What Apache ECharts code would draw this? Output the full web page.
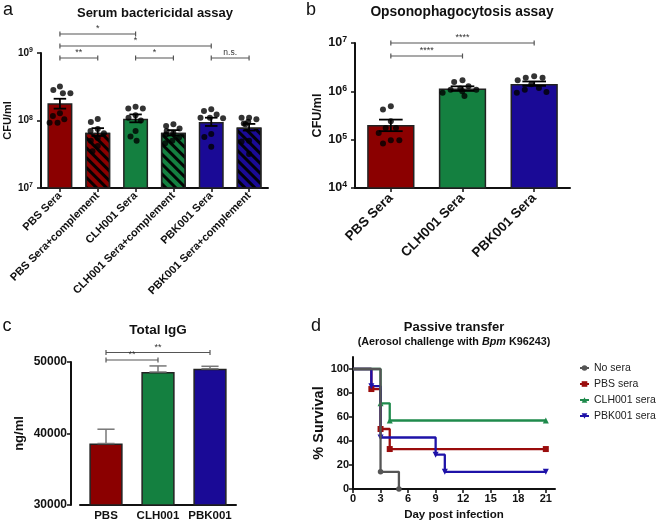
<!DOCTYPE html>
<html>
<head>
<meta charset="utf-8">
<script src="https://cdn.jsdelivr.net/npm/echarts@6/dist/echarts.min.js"></script>
<style>
  html, body { margin: 0; padding: 0; background: #fff; }
  #main { width: 658px; height: 522px; }
</style>
</head>
<body>
<div id="main"></div>
<script>
// a: serum bactericidal assay (CFU/ml, log)
let sbaGroups = ["PBS Sera", "PBS Sera+complement", "CLH001 Sera", "CLH001 Sera+complement", "PBK001 Sera", "PBK001 Sera+complement"]
let sbaMean = [1.8e8, 6.6e7, 1.06e8, 6.6e7, 9.5e7, 7.9e7]
let sbaLow = [1.5e8, 5.9e7, 9.4e7, 6.0e7, 8.3e7, 7.1e7]
let sbaHigh = [2.1e8, 7.7e7, 1.23e8, 7.2e7, 1.1e8, 8.9e7]
let sbaDots = [
  [3.2e8, 2.83e8, 2.53e8, 2.53e8, 1.28e8, 1.17e8, 1.04e8, 9.3e7, 9.3e7],
  [1.05e8, 9.5e7, 7.5e7, 7e7, 6.5e7, 5.5e7, 5e7, 4.2e7, 3.5e7],
  [1.6e8, 1.5e8, 1.5e8, 1.2e8, 1.1e8, 1.0e8, 7e7, 5.8e7, 5e7],
  [8.8e7, 8.3e7, 7.6e7, 7e7, 6.6e7, 6.2e7, 5.6e7, 5e7, 4.6e7],
  [1.47e8, 1.38e8, 1.23e8, 1.1e8, 1.1e8, 1.08e8, 6.3e7, 5.7e7, 4.1e7],
  [1.1e8, 1.1e8, 1.04e8, 9.6e7, 9e7, 8.8e7, 5e7, 4.9e7, 3.2e7]
]
// [from, to, label, row]
let sbaSig = [[0, 2, "*", 0], [0, 4, "*", 1], [0, 1, "**", 2], [2, 3, "*", 2], [4, 5, "n.s.", 2]]

// b: opsonophagocytosis assay
let opaGroups = ["PBS Sera", "CLH001 Sera", "PBK001 Sera"]
let opaMean = [2.0e5, 1.14e6, 1.42e6]
let opaLow = [1.5e5, 1.02e6, 1.3e6]
let opaHigh = [2.6e5, 1.27e6, 1.6e6]
let opaDots = [
  [4.9e5, 4.2e5, 2.4e5, 1.74e5, 1.74e5, 1.38e5, 9.7e4, 9.7e4, 8.3e4],
  [1.69e6, 1.56e6, 1.27e6, 1.14e6, 1.08e6, 1.08e6, 1.0e6, 9.4e5, 8e5],
  [2.05e6, 1.92e6, 1.92e6, 1.69e6, 1.4e6, 1.17e6, 1.08e6, 9.7e5, 9.4e5]
]
let opaSig = [[0, 2, "****", 0], [0, 1, "****", 1]]

// c: total IgG
let iggGroups = ["PBS", "CLH001", "PBK001"]
let iggMean = [38600, 48600, 49050]
let iggHigh = [40600, 49450, 49400]
let iggSig = [[0, 2, "**", 0], [0, 1, "**", 1]]

// d: passive transfer survival
let survNames = ["No sera", "PBS sera", "CLH001 sera", "PBK001 sera"]
let noSeraDays = [0, 3, 5]
let noSeraPct = [100, 14.3, 0]
let pbsDays = [0, 2, 3, 4, 21]
let pbsPct = [100, 83.3, 50, 33.3, 33.3]
let clhDays = [0, 3, 4, 21]
let clhPct = [100, 71.4, 57.1, 57.1]
let pbkDays = [0, 2, 3, 9, 10, 21]
let pbkPct = [100, 85.7, 42.9, 28.6, 14.3, 14.3]
let dayTicks = [0, 3, 6, 9, 12, 15, 18, 21]
let pctTicks = [0, 20, 40, 60, 80, 100]

const FONT = "Liberation Sans, Arial, sans-serif"
const RED = "#8b0000", GREEN = "#148040", BLUE = "#1a0a96"
const hatch = {
  symbol: "rect", symbolSize: 1, color: "rgba(0,0,0,0.95)",
  dashArrayX: [1, 0], dashArrayY: [2.5, 3.5], rotation: Math.PI / 4
}

let myChart = echarts.init(document.getElementById("main"), null, { renderer: "canvas" })

function logLabel(size) {
  return {
    fontSize: size, fontWeight: "bold", color: "#111", fontFamily: FONT,
    formatter: function (v) { return "10{s|" + Math.round(Math.log10(v)) + "}" },
    rich: { s: { fontSize: size * 0.7, fontWeight: "bold", fontFamily: FONT, verticalAlign: "top", padding: [0, 0, size * 0.5, 0] } }
  }
}

function axisBase(extra) {
  return Object.assign({
    axisLine: { show: true, lineStyle: { color: "#111", width: 2 } },
    axisTick: { show: true, length: 4, lineStyle: { color: "#111", width: 1.5 } },
    splitLine: { show: false }
  }, extra)
}

function nameStyle(size) {
  return { fontSize: size, fontWeight: "bold", color: "#111", fontFamily: FONT }
}

// error bars drawn with a custom series; value = [index, low, high]
function errorBars(xi, lo, hi, color, width) {
  let data = lo.map(function (l, i) { return [i, l, hi[i]] })
  return {
    type: "custom", xAxisIndex: xi, yAxisIndex: xi, z: 4,
    data: data,
    encode: { x: 0, y: [1, 2] },
    renderItem: function (params, api) {
      let x = api.value(0)
      let p1 = api.coord([x, api.value(1)])
      let p2 = api.coord([x, api.value(2)])
      let half = api.size([1, 0])[0] * 0.66 / 4
      let style = { stroke: color, lineWidth: width }
      return {
        type: "group",
        children: [
          { type: "line", shape: { x1: p1[0], y1: p1[1], x2: p2[0], y2: p2[1] }, style: style },
          { type: "line", shape: { x1: p2[0] - half, y1: p2[1], x2: p2[0] + half, y2: p2[1] }, style: style },
          { type: "line", shape: { x1: p1[0] - half, y1: p1[1], x2: p1[0] + half, y2: p1[1] }, style: style }
        ]
      }
    }
  }
}

function dotPoints(groups) {
  let pts = []
  groups.forEach(function (arr, i) { arr.forEach(function (v) { pts.push([i, v]) }) })
  return pts
}

function survData(days, pct) {
  return days.map(function (d, i) {
    return i === 0 ? { value: [d, pct[i]], symbol: "none" } : [d, pct[i]]
  })
}

let barColorsA = [RED, RED, GREEN, GREEN, BLUE, BLUE]
let barColorsB = [RED, GREEN, BLUE]

let option = {
  animation: false,
  textStyle: { fontFamily: FONT },
  grid: [
    { left: 41, top: 53, width: 227, height: 135 },
    { left: 355, top: 43, width: 215, height: 145 },
    { left: 80, top: 362, width: 156, height: 146 },
    { left: 353, top: 357, width: 202, height: 134 }
  ],
  xAxis: [
    axisBase({
      type: "category", gridIndex: 0, data: sbaGroups,
      jitter: 24, jitterOverlap: false, jitterMargin: 1.5,
      axisTick: { show: true, alignWithLabel: true, length: 4, lineStyle: { color: "#111", width: 1.5 } },
      axisLabel: { rotate: 45, interval: 0, fontSize: 11, fontWeight: "bold", color: "#111", margin: 6 }
    }),
    axisBase({
      type: "category", gridIndex: 1, data: opaGroups,
      jitter: 40, jitterOverlap: false, jitterMargin: 2.5,
      axisTick: { show: true, alignWithLabel: true, length: 4, lineStyle: { color: "#111", width: 1.5 } },
      axisLabel: { rotate: 45, interval: 0, fontSize: 13.5, fontWeight: "bold", color: "#111", margin: 8 }
    }),
    axisBase({
      type: "category", gridIndex: 2, data: iggGroups,
      axisTick: { show: false },
      axisLabel: { interval: 0, fontSize: 11.5, fontWeight: "bold", color: "#111", margin: 5 }
    }),
    axisBase({
      type: "value", gridIndex: 3, min: 0, max: 22,
      name: "Day post infection", nameLocation: "middle", nameGap: 20, nameTextStyle: nameStyle(11.5),
      axisTick: { show: true, length: 4, customValues: dayTicks, lineStyle: { color: "#111", width: 1.5 } },
      axisLabel: { customValues: dayTicks, fontSize: 11, fontWeight: "bold", color: "#111", margin: 4 }
    })
  ],
  yAxis: [
    axisBase({
      type: "log", gridIndex: 0, min: 1e7, max: 1e9, logBase: 10,
      name: "CFU/ml", nameLocation: "middle", nameGap: 28, nameTextStyle: nameStyle(11),
      axisLabel: logLabel(10)
    }),
    axisBase({
      type: "log", gridIndex: 1, min: 1e4, max: 1e7, logBase: 10,
      name: "CFU/ml", nameLocation: "middle", nameGap: 31, nameTextStyle: nameStyle(12.5),
      axisLabel: logLabel(12.5)
    }),
    axisBase({
      type: "value", gridIndex: 2, min: 30000, max: 50000, interval: 10000, offset: 9,
      name: "ng/ml", nameLocation: "middle", nameGap: 45, nameTextStyle: nameStyle(13),
      axisLabel: { fontSize: 12, fontWeight: "bold", color: "#111", margin: 4, formatter: function (v) { return String(v) } }
    }),
    axisBase({
      type: "value", gridIndex: 3, min: 0, max: 110,
      name: "% Survival", nameLocation: "middle", nameGap: 26, nameTextStyle: nameStyle(14.5),
      axisTick: { show: true, length: 4, customValues: pctTicks, lineStyle: { color: "#111", width: 1.5 } },
      axisLabel: { customValues: pctTicks, fontSize: 11, fontWeight: "bold", color: "#111", margin: 4 }
    })
  ],
  legend: {
    data: survNames, orient: "vertical", left: 574, top: 356,
    itemWidth: 9, itemHeight: 7, itemGap: 2,
    textStyle: { fontSize: 10.5, color: "#222", fontFamily: FONT, lineHeight: 14 }
  },
  series: [
    {
      type: "bar", xAxisIndex: 0, yAxisIndex: 0, barWidth: "66%", z: 2,
      data: sbaMean.map(function (v, i) {
        return { value: v, itemStyle: { color: barColorsA[i], decal: i % 2 === 1 ? hatch : null } }
      }),
      itemStyle: { borderColor: "#222", borderWidth: 1.5 }
    },
    {
      type: "scatter", xAxisIndex: 0, yAxisIndex: 0, z: 3,
      symbolSize: 6, itemStyle: { color: "#000" },
      data: dotPoints(sbaDots)
    },
    errorBars(0, sbaLow, sbaHigh, "#000", 1.8),
    {
      type: "bar", xAxisIndex: 1, yAxisIndex: 1, barWidth: "66%", z: 2,
      data: opaMean.map(function (v, i) { return { value: v, itemStyle: { color: barColorsB[i] } } }),
      itemStyle: { borderColor: "#222", borderWidth: 1.5 }
    },
    {
      type: "scatter", xAxisIndex: 1, yAxisIndex: 1, z: 3,
      symbolSize: 6, itemStyle: { color: "#000" },
      data: dotPoints(opaDots)
    },
    errorBars(1, opaLow, opaHigh, "#000", 1.8),
    {
      type: "bar", xAxisIndex: 2, yAxisIndex: 2, barWidth: "64%", z: 2,
      data: iggMean.map(function (v, i) { return { value: v, itemStyle: { color: barColorsB[i] } } }),
      itemStyle: { borderColor: "#222", borderWidth: 1.5 }
    },
    errorBars(2, iggMean, iggHigh, "#777", 1.5),
    {
      name: survNames[1], type: "line", step: "end", xAxisIndex: 3, yAxisIndex: 3, z: 3,
      data: survData(pbsDays, pbsPct), color: "#9a0c0c",
      symbol: "rect", symbolSize: 6, lineStyle: { width: 2.3 }
    },
    {
      name: survNames[2], type: "line", step: "end", xAxisIndex: 3, yAxisIndex: 3, z: 3,
      data: survData(clhDays, clhPct), color: "#1f8a4c",
      symbol: "triangle", symbolSize: 6, lineStyle: { width: 2.3 }
    },
    {
      name: survNames[3], type: "line", step: "end", xAxisIndex: 3, yAxisIndex: 3, z: 3,
      data: survData(pbkDays, pbkPct), color: "#1e12a8",
      symbol: "triangle", symbolRotate: 180, symbolSize: 6, lineStyle: { width: 2.3 }
    },
    {
      name: survNames[0], type: "line", step: "end", xAxisIndex: 3, yAxisIndex: 3, z: 4,
      data: survData(noSeraDays, noSeraPct), color: "#555555",
      symbol: "circle", symbolSize: 5.5, lineStyle: { width: 2.3 }
    }
  ]
}
myChart.setOption(option)

// text and significance brackets, placed from the axes after layout
function brackets(xi, sig, top, rowGap) {
  let items = []
  sig.forEach(function (s) {
    let x1 = myChart.convertToPixel({ xAxisIndex: xi }, s[0])
    let x2 = myChart.convertToPixel({ xAxisIndex: xi }, s[1])
    let y = top + s[3] * rowGap
    let st = { stroke: "#555", lineWidth: 1.2 }
    items.push({ type: "line", shape: { x1: x1, y1: y, x2: x2, y2: y }, style: st })
    items.push({ type: "line", shape: { x1: x1, y1: y - 2.5, x2: x1, y2: y + 2.5 }, style: st })
    items.push({ type: "line", shape: { x1: x2, y1: y - 2.5, x2: x2, y2: y + 2.5 }, style: st })
    items.push({
      type: "text",
      style: {
        text: s[2], x: (x1 + x2) / 2, y: y - 0.5, align: "center", verticalAlign: "bottom",
        fontSize: s[2] === "n.s." ? 8.5 : 9, fill: "#333", fontFamily: FONT
      }
    })
  })
  return items
}

function label(text, x, y, size, weight) {
  return {
    type: "text",
    style: { text: text, x: x, y: y, align: "center", verticalAlign: "middle", fontSize: size, fontWeight: weight, fill: "#111", fontFamily: FONT }
  }
}

let graphics = [
  label("a", 8, 10, 18, "normal"),
  label("b", 311, 10, 18, "normal"),
  label("c", 7, 326, 18, "normal"),
  label("d", 316, 326, 18, "normal"),
  label("Serum bactericidal assay", 155, 13, 13, "bold"),
  label("Opsonophagocytosis assay", 462, 12, 13.8, "bold"),
  label("Total IgG", 158, 330, 13.5, "bold"),
  label("Passive transfer", 454, 327, 13, "bold"),
  {
    type: "text",
    style: {
      text: "(Aerosol challenge with {i|Bpm} K96243)", x: 454, y: 342, align: "center", verticalAlign: "middle",
      fontSize: 10.8, fontWeight: "bold", fill: "#111", fontFamily: FONT,
      rich: { i: { fontSize: 10.8, fontWeight: "bold", fontStyle: "italic", fill: "#111", fontFamily: FONT } }
    }
  }
]
graphics = graphics
  .concat(brackets(0, sbaSig, 34, 12))
  .concat(brackets(1, opaSig, 43, 13))
  .concat(brackets(2, iggSig, 352.5, 7.5))

myChart.setOption({ graphic: graphics })
</script>
</body>
</html>
